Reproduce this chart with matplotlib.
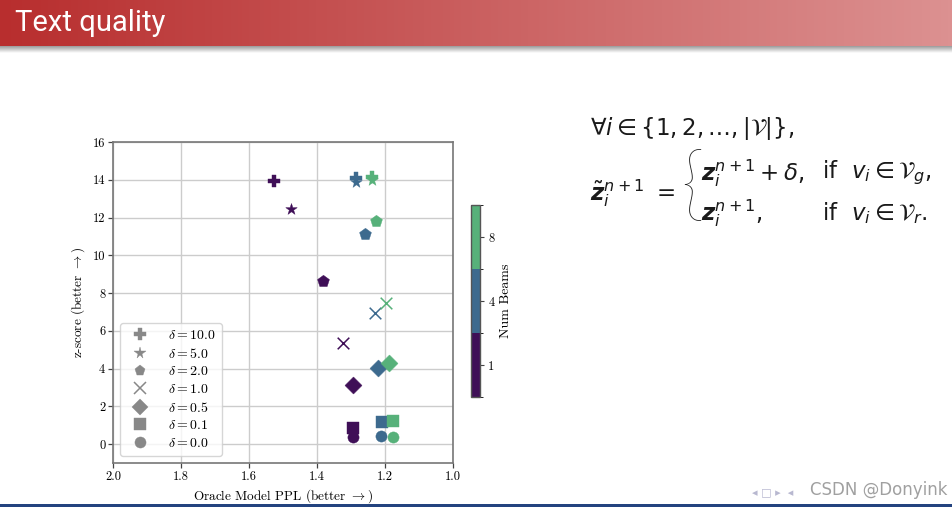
import numpy as np
import matplotlib
matplotlib.use("Agg")
import matplotlib.pyplot as plt
from matplotlib.colors import ListedColormap, BoundaryNorm, LinearSegmentedColormap
import matplotlib.cm as cm

# ---------------- data ----------------
deltas = [10.0, 5.0, 2.0, 1.0, 0.5, 0.1, 0.0]
markers = ['P', '*', 'p', 'x', 'D', 's', 'o']
num_beams = [1, 4, 8]
beam_colors = ['#3f0f57', '#3d6a8e', '#57b17a']

ppl_b1 = [1.526, 1.476, 1.381, 1.324, 1.293, 1.295, 1.293]
z_b1 = [13.94, 12.46, 8.66, 5.35, 3.11, 0.85, 0.37]
ppl_b4 = [1.285, 1.285, 1.259, 1.229, 1.220, 1.209, 1.212]
z_b4 = [14.10, 13.90, 11.13, 6.95, 4.02, 1.17, 0.41]
ppl_b8 = [1.238, 1.238, 1.226, 1.197, 1.189, 1.177, 1.177]
z_b8 = [14.12, 14.00, 11.80, 7.45, 4.28, 1.21, 0.37]
ppl_series = [ppl_b1, ppl_b4, ppl_b8]
z_series = [z_b1, z_b4, z_b8]

x_ticks = [2.0, 1.8, 1.6, 1.4, 1.2, 1.0]
y_ticks = [0, 2, 4, 6, 8, 10, 12, 14, 16]

marker_sizes = {'P': 85, '*': 75, 'p': 80, 'x': 70, 'D': 75, 's': 70, 'o': 65}

# ---------------- style ----------------
plt.rcParams['font.family'] = 'serif'
plt.rcParams['font.serif'] = ['cmr10', 'DejaVu Serif']
plt.rcParams['mathtext.fontset'] = 'cm'
plt.rcParams['axes.formatter.use_mathtext'] = True
plt.rcParams['axes.unicode_minus'] = False

W, H = 952, 507
fig = plt.figure(figsize=(W / 100, H / 100), dpi=100)
fig.patch.set_facecolor('white')

# ---------------- title bar ----------------
bar_h = 46
ax_bar = fig.add_axes([0, 1 - bar_h / H, 1, bar_h / H])
grad = np.linspace(0, 1, 256).reshape(1, -1)
bar_cmap = LinearSegmentedColormap.from_list('bar', ['#b82e2e', '#dc9191'])
ax_bar.imshow(grad, aspect='auto', cmap=bar_cmap, extent=[0, 1, 0, 1])
ax_bar.set_axis_off()
ax_bar.text(15 / W, 0.50, 'Text quality', color='white', fontsize=21,
            family=['Roboto', 'DejaVu Sans'],
            va='center', ha='left', transform=ax_bar.transAxes)

sh_h = 7
ax_sh = fig.add_axes([0, 1 - (bar_h + sh_h) / H, 1, sh_h / H])
sh = np.linspace(0, 1, 64).reshape(-1, 1)
sh_cmap = LinearSegmentedColormap.from_list('sh', ['#9a9a9a', '#ffffff'])
ax_sh.imshow(sh, aspect='auto', cmap=sh_cmap, extent=[0, 1, 0, 1])
ax_sh.set_axis_off()

# bottom line
ax_bl = fig.add_axes([0, 0, 1, 3 / H])
ax_bl.set_facecolor('#23437f')
ax_bl.set_xticks([]); ax_bl.set_yticks([])
for s in ax_bl.spines.values():
    s.set_visible(False)

# ---------------- scatter ----------------
ax = fig.add_axes([113 / W, 44 / H, 340 / W, 321 / H])
ax.set_xlim(2.0, 1.0)
ax.set_ylim(-1, 16)
ax.set_xticks(x_ticks)
ax.set_yticks(y_ticks)
ax.set_xticklabels([f'{v:.1f}' for v in x_ticks])
ax.set_yticklabels([str(v) for v in y_ticks])
ax.grid(True, color='#cccccc', linewidth=1.0)
ax.set_axisbelow(True)
for s in ax.spines.values():
    s.set_color('#777777')
    s.set_linewidth(1.2)
ax.tick_params(labelsize=9, color='#444444', length=3.5, width=0.9, pad=2)

for bi in range(len(num_beams)):
    for di in range(len(deltas)):
        m = markers[di]
        kw = dict(marker=m, s=marker_sizes[m], color=beam_colors[bi], zorder=3)
        if m == 'x':
            kw['linewidths'] = 1.1
        else:
            kw['edgecolors'] = beam_colors[bi]
            kw['linewidths'] = 0.3
        ax.scatter([ppl_series[bi][di]], [z_series[bi][di]], **kw)

ax.set_xlabel(r'Oracle Model PPL (better $\rightarrow$)', fontsize=9.5, labelpad=3)
ax.set_ylabel(r'z-score (better $\rightarrow$)', fontsize=9.5, labelpad=4)

handles = []
for di in range(len(deltas)):
    mk = markers[di]
    h = plt.Line2D([], [], linestyle='none', marker=mk,
                   color='#888888', markersize=8 if mk not in ('*',) else 8.5,
                   markeredgewidth=1.1 if mk == 'x' else 0.3,
                   markeredgecolor='#888888')
    handles.append(h)
labels = [r'$\delta = %.1f$' % d for d in deltas]
leg = ax.legend(handles, labels, loc='lower left', fontsize=10,
                frameon=True, fancybox=True, framealpha=0.8,
                edgecolor='#cccccc', borderpad=0.45, labelspacing=0.33,
                handletextpad=1.0, borderaxespad=0.5)

# ---------------- colorbar ----------------
cax = fig.add_axes([471 / W, 110 / H, 9 / W, 192 / H])
cmap = ListedColormap(beam_colors)
norm = BoundaryNorm([0, 1, 2, 3], cmap.N)
cb = fig.colorbar(cm.ScalarMappable(norm=norm, cmap=cmap), cax=cax,
                  ticks=[0.5, 1.5, 2.5])
cb.ax.set_yticklabels([str(b) for b in num_beams])
cb.ax.tick_params(labelsize=9, length=3, width=0.8, color='#444444', pad=3)
cb.outline.set_edgecolor('#555555')
cb.outline.set_linewidth(1.0)
cb.set_label('Num Beams', fontsize=10, labelpad=4)

# ---------------- formula ----------------
fs = 16.5
fkw = dict(color='#1a1a1a', math_fontfamily='dejavusans', va='center', ha='left')
fig.text(590 / W, 1 - 128 / H, r'$\forall i \in \{1, 2, \ldots, |\mathcal{V}|\},$',
         fontsize=fs, **fkw)
fig.text(590 / W, 1 - 193 / H, r'$\tilde{\mathbfit{z}}_i^{n+1}\ =$', fontsize=fs, **fkw)
fig.text(680 / W, 1 - 189 / H, '{', fontsize=59, color='#1a1a1a',
         family=['Lato', 'Liberation Sans'], fontweight='light',
         va='center', ha='left')
fig.text(701 / W, 1 - 173 / H, r'$\mathbfit{z}_i^{n+1} + \delta,$', fontsize=fs, **fkw)
fig.text(822 / W, 1 - 173 / H, r'$\mathrm{if}\ \ v_i \in \mathcal{V}_g,$', fontsize=fs, **fkw)
fig.text(701 / W, 1 - 213 / H, r'$\mathbfit{z}_i^{n+1},$', fontsize=fs, **fkw)
fig.text(822 / W, 1 - 213 / H, r'$\mathrm{if}\ \ v_i \in \mathcal{V}_r.$', fontsize=fs, **fkw)

# ---------------- footer ----------------
fig.text(752 / W, 1 - 492 / H, '\u25c2 \u25a1 \u25b8  \u25c2', fontsize=8,
         color='#b8b8d0', family='DejaVu Sans', va='center', ha='left')
fig.text(948 / W, 1 - 490 / H, 'CSDN @Donyink', fontsize=12,
         color='#a0a0a0', family='DejaVu Sans', va='center', ha='right')

fig.savefig('out.png', dpi=100)
